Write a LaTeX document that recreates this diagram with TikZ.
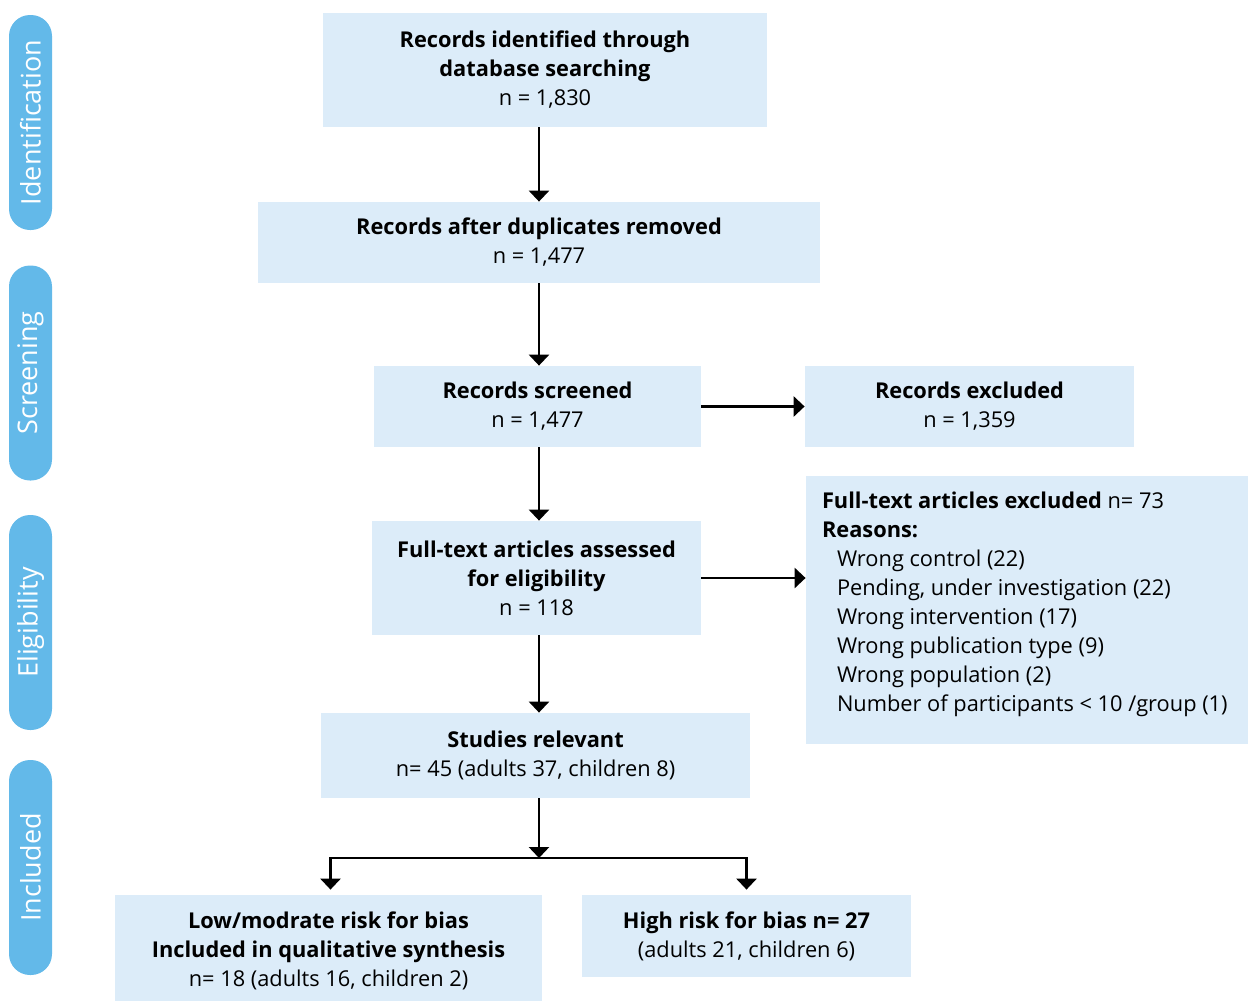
\documentclass[tikz,border=0pt]{standalone}
\usepackage{fontspec}
\setmainfont{Open Sans}
\usetikzlibrary{arrows.meta,positioning}
\definecolor{boxblue}{RGB}{220,236,249}
\definecolor{pillblue}{RGB}{99,185,233}
\tikzset{
  flowbox/.style={fill=boxblue, inner sep=0pt, align=center, font=\fontsize{10.9}{14.5}\selectfont},
  stagepill/.style={fill=pillblue, rounded corners=10.5pt, rotate=90, minimum width=107.5pt, minimum height=21.5pt, inner sep=0pt, text=white, font=\fontsize{13.5}{15}\selectfont},
  arr/.style={-{Triangle[length=5.5pt,width=10pt]}, line width=1.4pt},
}
\begin{document}
\begin{tikzpicture}[x=0.5pt, y=-0.5pt]
        \useasboundingbox (0,0) rectangle (1248,1001);

        % Stage labels on the left
        \node[stagepill] (ident) at (30.5,122.5) {Identification};
        \node[stagepill] (screen) at (30.5,373) {Screening};
        \node[stagepill] (elig) at (30.5,622.5) {Eligibility};
        \node[stagepill] (incl) at (30.5,867.5) {Included};

        % Main column
        \node[flowbox, minimum width=222pt, minimum height=57pt] (found) at (545,70) {\textbf{Records identified through}\\\textbf{database searching}\\n = 1,830};
        \node[flowbox, minimum width=281pt, minimum height=40.5pt] (dedup) at (539,242.5) {\textbf{Records after duplicates removed}\\n = 1,477};
        \node[flowbox, minimum width=163.5pt, minimum height=40.5pt] (screened) at (537.5,406.5) {\textbf{Records screened}\\n = 1,477};
        \node[flowbox, minimum width=164.5pt, minimum height=57pt] (fulltext) at (536.5,578) {\textbf{Full-text articles assessed}\\\textbf{for eligibility}\\n = 118};
        \node[flowbox, minimum width=214.5pt, minimum height=42.5pt] (relevant) at (535.5,755.5) {\textbf{Studies relevant}\\n= 45 (adults 37, children 8)};

        % Right column - exclusions
        \node[flowbox, minimum width=164.5pt, minimum height=40.5pt] (excluded) at (969.5,406.5) {\textbf{Records excluded}\\n = 1,359};
        \node[flowbox, inner xsep=8pt] (reasons) at (1027,610) {\parbox[c][134pt][t]{205pt}{\raggedright\vspace*{8pt}%
            \textbf{Full-text articles excluded} n= 73\\
            \textbf{Reasons:}\\
            \hspace*{7.5pt}Wrong control (22)\\
            \hspace*{7.5pt}Pending, under investigation (22)\\
            \hspace*{7.5pt}Wrong intervention (17)\\
            \hspace*{7.5pt}Wrong publication type (9)\\
            \hspace*{7.5pt}Wrong population (2)\\
            \hspace*{7.5pt}Number of participants < 10 /group (1)}};

        % Bottom row - risk of bias
        \node[flowbox, minimum width=213.5pt, minimum height=56pt] (lowrisk) at (328.5,951) {\textbf{Low/modrate risk for bias}\\\textbf{Included in qualitative synthesis}\\n= 18 (adults 16, children 2)};
        \node[flowbox, minimum width=164.5pt, minimum height=41pt] (highrisk) at (746.5,936) {\textbf{High risk for bias n= 27}\\(adults 21, children 6)};

        % Connectors
        \coordinate (spine) at (539,0);
        \coordinate (split) at (539,858);
        \draw[arr] (found.south -| spine) -- (dedup.north -| spine);
        \draw[arr] (dedup.south -| spine) -- (screened.north -| spine);
        \draw[arr] (screened.south -| spine) -- (fulltext.north -| spine);
        \draw[arr] (fulltext.south -| spine) -- (relevant.north -| spine);
        \draw[arr] (relevant.south -| spine) -- (split);
        \draw[arr] (screened.east) -- (excluded.west);
        \draw[arr] (fulltext.east) -- (fulltext.east -| reasons.west);
        \draw[arr, shorten >=2.5pt] (split) -| ([xshift=1pt]lowrisk.north);
        \draw[arr, shorten >=2.5pt] (split) -| (highrisk.north);
    \end{tikzpicture}
\end{document}
